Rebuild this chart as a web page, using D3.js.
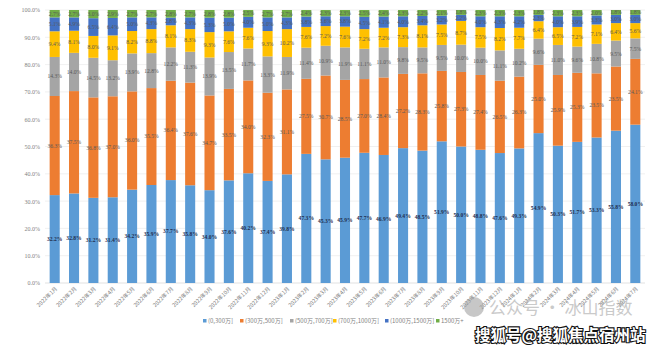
<!DOCTYPE html>
<html>
<head>
<meta charset="utf-8">
<script src="https://cdn.jsdelivr.net/npm/d3@7"></script>
<style>
  body { margin: 0; background: #fff; }
  svg { display: block; }
</style>
</head>
<body>
<div id="chart"></div>
<script>
const months = [
  '2022年1月','2022年2月','2022年3月','2022年4月','2022年5月','2022年6月','2022年7月','2022年8月','2022年9月','2022年10月','2022年11月','2022年12月',
  '2023年1月','2023年2月','2023年3月','2023年4月','2023年5月','2023年6月','2023年7月','2023年8月','2023年9月','2023年10月','2023年11月','2023年12月',
  '2024年1月','2024年2月','2024年3月','2024年4月','2024年5月','2024年6月','2024年7月'
]
const seriesNames = ['(0,300万]', '(300万,500万]', '(500万,700万]', '(700万,1000万]', '(1000万,1500万]', '1500万+']

const s0_300 = [32.2, 32.8, 31.2, 31.4, 34.2, 35.9, 37.7, 35.8, 34.0, 37.6, 40.2, 37.4, 39.8, 47.3, 45.3, 45.9, 47.7, 46.9, 49.4, 48.5, 51.9, 50.0, 48.8, 47.6, 49.3, 54.9, 50.3, 51.7, 53.3, 55.8, 58.0]
const s300_500 = [36.3, 37.5, 36.8, 37.0, 36.0, 35.5, 36.4, 37.6, 34.7, 33.5, 34.0, 32.3, 31.1, 27.5, 30.7, 28.5, 27.0, 28.4, 27.2, 28.3, 25.8, 27.3, 27.4, 26.5, 26.3, 25.0, 25.9, 25.3, 23.5, 23.5, 24.1]
const s500_700 = [14.3, 14.0, 14.5, 13.2, 13.9, 12.8, 12.2, 11.3, 13.9, 13.5, 11.7, 13.3, 11.9, 11.4, 10.9, 11.9, 11.1, 11.0, 9.8, 9.5, 9.5, 10.0, 10.0, 11.1, 10.2, 9.6, 11.0, 9.6, 10.8, 9.5, 7.5]
const s700_1000 = [9.4, 8.1, 8.0, 9.1, 8.2, 8.8, 8.1, 8.3, 9.3, 7.6, 7.6, 9.3, 10.2, 7.6, 7.2, 7.6, 7.2, 7.2, 7.3, 8.1, 7.5, 8.7, 7.5, 8.2, 7.7, 6.4, 6.5, 7.2, 7.1, 6.4, 5.6]
const s1000_1500 = [5.1, 4.9, 6.5, 6.4, 5.0, 4.3, 2.8, 4.3, 5.3, 5.0, 4.0, 5.0, 4.3, 3.8, 3.6, 3.8, 4.5, 4.1, 4.0, 3.4, 3.2, 2.2, 4.0, 4.3, 4.2, 2.3, 4.0, 3.9, 3.3, 3.0, 3.0]
const s1500up = [2.7, 2.7, 3.0, 2.9, 2.7, 2.7, 2.8, 2.7, 2.8, 2.8, 2.5, 2.7, 2.7, 2.4, 2.3, 2.3, 2.5, 2.4, 2.3, 2.2, 2.1, 1.8, 2.3, 2.3, 2.3, 1.8, 2.3, 2.3, 2.0, 1.8, 1.8]
const yTicks = [0, 0.1, 0.2, 0.3, 0.4, 0.5, 0.6, 0.7, 0.8, 0.9, 1.0]

const colors = ['#5B9BD5', '#ED7D31', '#A5A5A5', '#FFC000', '#4472C4', '#70AD47']
const allSeries = [s0_300, s300_500, s500_700, s700_1000, s1000_1500, s1500up]

const rows = months.map((m, i) => {
  const r = { month: m }
  seriesNames.forEach((k, j) => { r[k] = allSeries[j][i] })
  return r
})

const width = 660, height = 352
const margin = { top: 10, right: 15, bottom: 69, left: 45 }
const numFont = '"Liberation Serif", "Noto Sans CJK SC", serif'
const cjkFont = '"Noto Sans CJK SC", sans-serif'

const svg = d3.select('#chart').append('svg')
    .attr('width', width)
    .attr('height', height)

const x = d3.scaleBand()
    .domain(months)
    .range([margin.left, width - margin.right])
    .paddingInner(0.48)
    .paddingOuter(0.24)

const y = d3.scaleLinear()
    .domain([0, 1])
    .range([height - margin.bottom, margin.top])

// grid
svg.append('g')
  .selectAll('line')
  .data(yTicks)
  .enter().append('line')
    .attr('x1', margin.left)
    .attr('x2', width - margin.right)
    .attr('y1', d => y(d))
    .attr('y2', d => y(d))
    .attr('stroke', d => d === 0 ? '#d9d9d9' : '#ececec')
    .attr('stroke-width', 0.8)

// y axis
const yAxis = d3.axisLeft(y)
    .tickValues(yTicks)
    .tickFormat(d => (d * 100).toFixed(1) + '%')
    .tickSize(0)
    .tickPadding(5)

svg.append('g')
    .attr('transform', 'translate(' + margin.left + ',0)')
    .call(yAxis)
    .call(g => g.select('.domain').remove())
    .selectAll('text')
    .attr('fill', '#7f7f7f')
    .style('font-family', numFont)
    .style('font-size', '6px')

const stack = d3.stack()
    .keys(seriesNames)
    .offset(d3.stackOffsetExpand)
const layers = stack(rows)

const layer = svg.selectAll('.layer')
    .data(layers)
  .enter().append('g')
    .attr('class', 'layer')
    .attr('fill', (d, i) => colors[i])

layer.selectAll('rect')
    .data(d => d)
  .enter().append('rect')
    .attr('x', d => x(d.data.month))
    .attr('width', x.bandwidth())
    .attr('y', d => y(d[1]))
    .attr('height', d => y(d[0]) - y(d[1]))

// data labels
layers.forEach((ly, i) => {
  svg.append('g')
    .selectAll('text')
    .data(ly)
    .enter().append('text')
      .attr('x', d => x(d.data.month) + x.bandwidth() / 2)
      .attr('y', d => (y(d[0]) + y(d[1])) / 2)
      .attr('dy', '0.35em')
      .attr('text-anchor', 'middle')
      .attr('fill', i === 0 ? '#1f2d4d' : '#595959')
      .style('font-family', numFont)
      .style('font-size', '5.6px')
      .style('font-weight', i === 0 ? 'bold' : 'normal')
      .text(d => d.data[ly.key].toFixed(1) + '%')
})

// x axis labels
const xAxis = d3.axisBottom(x).tickSize(0).tickPadding(0)
svg.append('g')
    .attr('transform', 'translate(0,' + (height - margin.bottom) + ')')
    .call(xAxis)
    .call(g => g.select('.domain').remove())
    .selectAll('text')
    .attr('fill', '#7f7f7f')
    .style('font-family', cjkFont)
    .style('font-size', '5.5px')
    .attr('text-anchor', 'end')
    .attr('transform', 'translate(3,6) rotate(-45)')
    .attr('dy', 0)
    .attr('y', 0)

// legend
const legendX = [203, 240, 290, 333, 385, 436]
const legend = svg.append('g')
  .selectAll('g')
  .data(seriesNames)
  .enter().append('g')
    .attr('transform', (d, i) => 'translate(' + legendX[i] + ',322)')
legend.append('rect')
    .attr('width', 3.5).attr('height', 3.5)
    .attr('y', -3)
    .attr('fill', (d, i) => colors[i])
legend.append('text')
    .attr('x', 5)
    .attr('y', 0.5)
    .attr('fill', '#7f7f7f')
    .style('font-family', cjkFont)
    .style('font-size', '6px')
    .text(d => d)

// watermarks
const wm = svg.append('g').attr('opacity', 0.55)
wm.append('circle')
    .attr('cx', 474).attr('cy', 307).attr('r', 10)
    .attr('fill', '#9a9a9a')
wm.append('text')
    .attr('x', 489).attr('y', 314)
    .attr('fill', '#a0a0a0')
    .style('font-family', cjkFont)
    .style('font-size', '17px')
    .text('公众号 · 冰山指数')

svg.append('text')
    .attr('x', 475).attr('y', 341)
    .attr('fill', '#fff')
    .attr('stroke', '#111')
    .attr('stroke-width', 2.2)
    .attr('paint-order', 'stroke')
    .style('font-family', cjkFont)
    .style('font-weight', 'bold')
    .style('font-size', '15.5px')
    .text('搜狐号@搜狐焦点宿州站')
</script>
</body>
</html>
